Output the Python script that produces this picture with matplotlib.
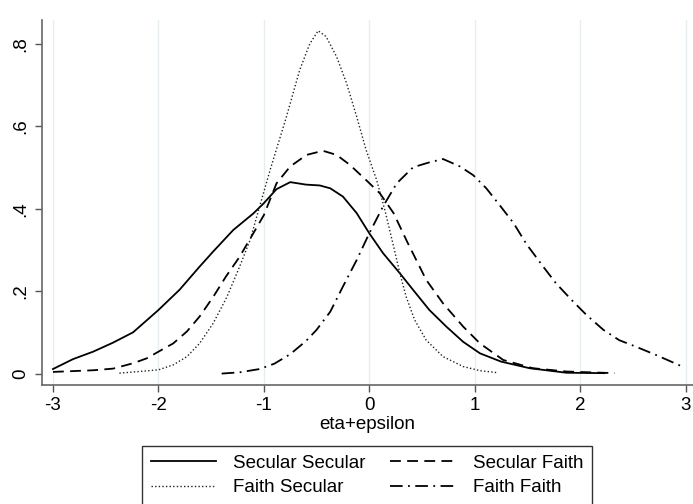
import matplotlib
matplotlib.use('Agg')
import matplotlib.pyplot as plt

plt.rcParams['font.family'] = ['Liberation Sans', 'DejaVu Sans']

# density estimates
ss_x = [-3.0, -2.81, -2.62, -2.43, -2.24, -2.0, -1.80, -1.61, -1.48, -1.29, -1.10, -1.0, -0.88, -0.75, -0.6,
        -0.47, -0.37, -0.25, -0.12, 0.0, 0.13, 0.29, 0.415, 0.57, 0.73, 0.89, 1.05, 1.25, 1.52, 1.87, 2.23]
ss_y = [0.012, 0.036, 0.054, 0.076, 0.101, 0.155, 0.204, 0.26, 0.297, 0.349, 0.389, 0.414, 0.448, 0.465, 0.459,
        0.457, 0.45, 0.43, 0.39, 0.341, 0.293, 0.244, 0.204, 0.155, 0.115, 0.078, 0.05, 0.03, 0.014, 0.003, 0.002]

sf_x = [-3.0, -2.81, -2.62, -2.43, -2.24, -2.11, -2.0, -1.86, -1.73, -1.61, -1.48, -1.36, -1.23, -1.10, -1.0,
        -0.88, -0.75, -0.595, -0.44, -0.31, -0.185, -0.03, 0.10, 0.23, 0.36, 0.54, 0.70, 0.89, 1.05, 1.27, 1.55,
        1.87, 2.33]
sf_y = [0.005, 0.007, 0.009, 0.013, 0.026, 0.038, 0.054, 0.074, 0.103, 0.139, 0.187, 0.236, 0.284, 0.341, 0.385,
        0.462, 0.503, 0.531, 0.541, 0.531, 0.507, 0.47, 0.438, 0.39, 0.32, 0.228, 0.171, 0.115, 0.074, 0.034, 0.014,
        0.006, 0.002]

fs_x = [-2.37, -2.18, -2.0, -1.86, -1.73, -1.61, -1.48, -1.35, -1.23, -1.13, -1.04, -0.94, -0.785, -0.66, -0.565,
        -0.485, -0.41, -0.31, -0.216, -0.12, -0.03, 0.07, 0.15, 0.225, 0.29, 0.35, 0.43, 0.54, 0.70, 0.89, 1.05, 1.22]
fs_y = [0.002, 0.006, 0.01, 0.022, 0.042, 0.074, 0.123, 0.187, 0.26, 0.325, 0.406, 0.495, 0.624, 0.737, 0.80,
        0.832, 0.818, 0.769, 0.705, 0.624, 0.543, 0.47, 0.395, 0.315, 0.244, 0.187, 0.131, 0.082, 0.042, 0.018,
        0.008, 0.003]

ff_x = [-1.40, -1.23, -1.04, -0.9, -0.75, -0.6, -0.5, -0.37, -0.25, -0.12, 0.0, 0.13, 0.26, 0.415, 0.57, 0.70,
        0.86, 0.985, 1.11, 1.24, 1.37, 1.49, 1.65, 1.77, 1.92, 2.06, 2.22, 2.37, 2.53, 2.72, 2.96]
ff_y = [0.001, 0.004, 0.012, 0.025, 0.048, 0.08, 0.107, 0.151, 0.212, 0.276, 0.341, 0.406, 0.462, 0.501, 0.513,
        0.521, 0.503, 0.482, 0.45, 0.408, 0.365, 0.315, 0.26, 0.22, 0.179, 0.143, 0.107, 0.082, 0.066, 0.046, 0.019]

labels = ['Secular Secular', 'Secular Faith', 'Faith Secular', 'Faith Faith']
xticks = [-3, -2, -1, 0, 1, 2, 3]
yticks = [0, 0.2, 0.4, 0.6, 0.8]
ytick_labels = ['0', '.2', '.4', '.6', '.8']

fs = 13.5

fig = plt.figure(figsize=(6.93, 5.04), dpi=100)
ax = fig.add_axes([42/693, 119/504, 651/693, 365/504])

for x in xticks:
    ax.axvline(x, color='#e6eef1', lw=1.0, zorder=0)

l_ss, = ax.plot(ss_x, ss_y, color='black', lw=1.3, ls='-')
l_sf, = ax.plot(sf_x, sf_y, color='black', lw=1.3, ls=(0, (6, 3.5)))
l_fs, = ax.plot(fs_x, fs_y, color='#222222', lw=1.0, ls=(0, (1, 1.6)))
l_ff, = ax.plot(ff_x, ff_y, color='black', lw=1.3, ls=(0, (7, 3, 1, 3)))

ax.set_xlim(-3.104, 3.07)
ax.set_ylim(-0.0267, 0.858)
ax.set_xticks(xticks)
ax.set_xticklabels([str(v) for v in xticks], fontsize=fs)
ax.set_yticks(yticks)
ax.set_yticklabels(ytick_labels, fontsize=fs, rotation=90, va='center')
ax.tick_params(axis='both', length=5, width=1, color='#555555', pad=4)
ax.spines['top'].set_visible(False)
ax.spines['right'].set_visible(False)
for s in ['left', 'bottom']:
    ax.spines[s].set_color('#666666')
    ax.spines[s].set_linewidth(1.2)
ax.set_xlabel('eta+epsilon', fontsize=fs, labelpad=1)

leg = fig.legend([l_ss, l_fs, l_sf, l_ff],
                 [labels[0], labels[2], labels[1], labels[3]],
                 ncol=2, loc='upper center', bbox_to_anchor=(367/693, 1 - 446/504),
                 fancybox=False, edgecolor='black', fontsize=fs,
                 handlelength=3.5, handletextpad=0.9, columnspacing=1.3,
                 borderpad=0.45, labelspacing=0.4, borderaxespad=0)
leg.get_frame().set_linewidth(1.0)

fig.savefig('out.png', dpi=100)
